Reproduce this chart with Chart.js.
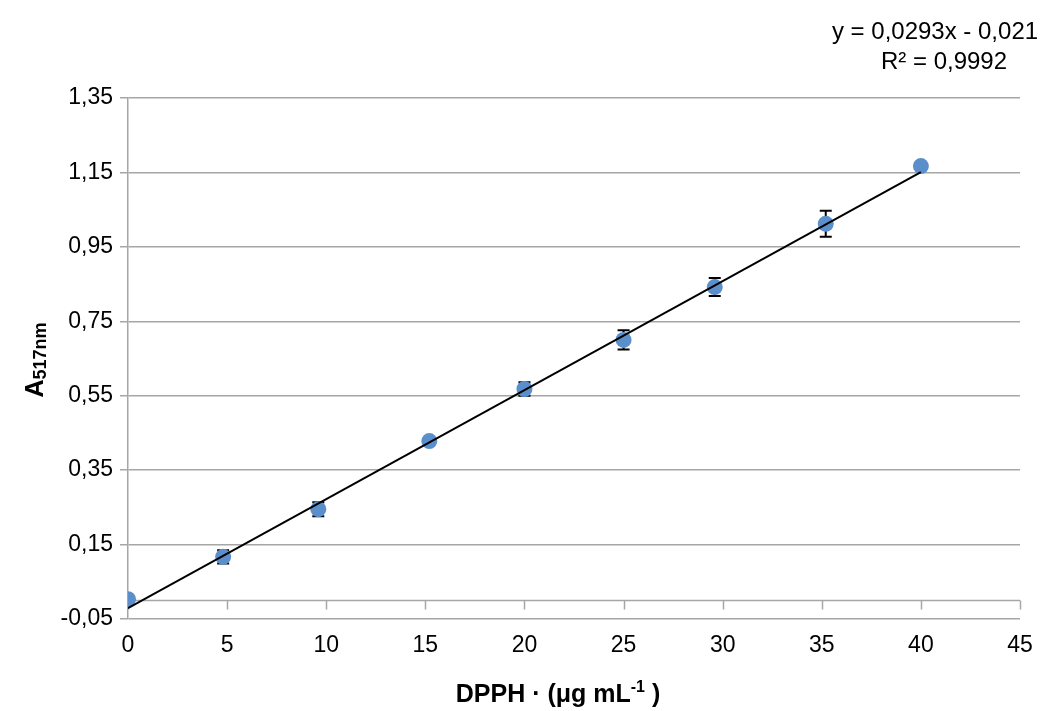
<!DOCTYPE html>
<html>
<head>
<meta charset="utf-8">
<script src="https://cdn.jsdelivr.net/npm/chart.js@4.4.1/dist/chart.umd.min.js"></script>
<style>
  html, body { margin: 0; padding: 0; background: #fff; }
  #wrap { width: 1058px; height: 711px; position: relative; }
</style>
</head>
<body>
<div id="wrap"><canvas id="chart"></canvas></div>
<script>
// concentration of DPPH (ug/mL) and absorbance at 517 nm
var concentration = [0, 4.8, 9.6, 15.2, 20, 25, 29.6, 35.2, 40];
var absorbance = [0.003, 0.117, 0.245, 0.428, 0.568, 0.700, 0.842, 1.012, 1.167];
var errors = [0, 0.018, 0.019, 0.008, 0.018, 0.026, 0.024, 0.035, 0];

// linear trendline ends, from y = 0,0293x - 0,021
var trendX = [0, 40];
var trendY = [-0.021, 1.151];

var yTicks = [-0.05, 0.15, 0.35, 0.55, 0.75, 0.95, 1.15, 1.35];
var xTicks = [0, 5, 10, 15, 20, 25, 30, 35, 40, 45];

var equationText = 'y = 0,0293x - 0,021';
var r2Text = 'R² = 0,9992';

var FONT = '"Liberation Sans", Arial, sans-serif';
var GRID = '#a6a6a6';

function comma(v, digits) {
    return v.toFixed(digits).replace('.', ',');
}

var errorBars = {
    id: 'errorBars',
    beforeDatasetsDraw: function(chart) {
        var ctx = chart.ctx, x = chart.scales.x, y = chart.scales.y;
        ctx.save();
        ctx.strokeStyle = '#000';
        ctx.lineWidth = 2;
        for (var i = 0; i < concentration.length; i++) {
            if (!errors[i]) continue;
            var px = x.getPixelForValue(concentration[i]);
            var top = y.getPixelForValue(absorbance[i] + errors[i]);
            var bot = y.getPixelForValue(absorbance[i] - errors[i]);
            ctx.beginPath();
            ctx.moveTo(px, top); ctx.lineTo(px, bot);
            ctx.moveTo(px - 6, top); ctx.lineTo(px + 6, top);
            ctx.moveTo(px - 6, bot); ctx.lineTo(px + 6, bot);
            ctx.stroke();
        }
        ctx.restore();
    }
};

// x axis crosses at y = 0, ticks pointing down
var crossAxis = {
    id: 'crossAxis',
    beforeDatasetsDraw: function(chart) {
        var ctx = chart.ctx, x = chart.scales.x, y = chart.scales.y;
        var py = Math.round(y.getPixelForValue(0)) + 0.5;
        ctx.save();
        ctx.strokeStyle = GRID;
        ctx.lineWidth = 1.5;
        ctx.beginPath();
        ctx.moveTo(chart.chartArea.left, py);
        ctx.lineTo(chart.chartArea.right, py);
        xTicks.forEach(function(t) {
            var px = Math.round(x.getPixelForValue(t)) + 0.5;
            ctx.moveTo(px, py);
            ctx.lineTo(px, py + 9);
        });
        ctx.stroke();
        ctx.restore();
    }
};

var titles = {
    id: 'titles',
    afterDraw: function(chart) {
        var ctx = chart.ctx;
        ctx.save();
        ctx.fillStyle = '#000';
        ctx.textBaseline = 'alphabetic';

        // x axis title with superscript
        var big = 'bold 25px ' + FONT, small = 'bold 16px ' + FONT;
        var parts = [['DPPH \u00b7 (\u03bcg mL', big, 0], ['-1', small, -10], [' )', big, 0]];
        var w = 0;
        parts.forEach(function(p) { ctx.font = p[1]; w += ctx.measureText(p[0]).width; });
        var cx = 558 - w / 2;
        parts.forEach(function(p) {
            ctx.font = p[1];
            ctx.fillText(p[0], cx, 702 + p[2]);
            cx += ctx.measureText(p[0]).width;
        });

        // y axis title A517nm, rotated
        ctx.translate(43, 360);
        ctx.rotate(-Math.PI / 2);
        var yparts = [['A', 'bold 25px ' + FONT, 0], ['517nm', 'bold 18px ' + FONT, 3]];
        w = 0;
        yparts.forEach(function(p) { ctx.font = p[1]; w += ctx.measureText(p[0]).width; });
        cx = -w / 2;
        yparts.forEach(function(p) {
            ctx.font = p[1];
            ctx.fillText(p[0], cx, p[2]);
            cx += ctx.measureText(p[0]).width;
        });
        ctx.restore();

        // trendline equation
        ctx.save();
        ctx.fillStyle = '#000';
        ctx.font = '24px ' + FONT;
        ctx.textAlign = 'center';
        ctx.fillText(equationText, 935, 39);
        ctx.fillText(r2Text, 944, 69);
        ctx.restore();
    }
};

new Chart(document.getElementById('chart'), {
    type: 'scatter',
    data: {
        datasets: [
            {
                type: 'line',
                label: 'trend',
                data: trendX.map(function(v, i) { return {x: v, y: trendY[i]}; }),
                borderColor: '#000',
                borderWidth: 2,
                pointRadius: 0,
                fill: false
            },
            {
                label: 'A517',
                data: concentration.map(function(v, i) { return {x: v, y: absorbance[i]}; }),
                backgroundColor: '#5b8fcb',
                borderColor: '#5b8fcb',
                pointRadius: 8,
                pointBorderWidth: 0
            }
        ]
    },
    options: {
        responsive: true,
        maintainAspectRatio: false,
        animation: false,
        layout: { padding: { top: 98, right: 38, left: 0, bottom: 0 } },
        plugins: {
            legend: { display: false },
            tooltip: { enabled: false }
        },
        scales: {
            x: {
                type: 'linear',
                min: 0,
                max: 45,
                afterBuildTicks: function(scale) {
                    scale.ticks = xTicks.map(function(v) { return {value: v}; });
                },
                afterFit: function(scale) { scale.height = 92; },
                grid: { display: false, drawTicks: false },
                border: { display: false },
                ticks: {
                    padding: 13,
                    color: '#000',
                    maxRotation: 0,
                    font: { family: FONT, size: 23 },
                    callback: function(v) { return String(v); }
                }
            },
            y: {
                type: 'linear',
                min: -0.05,
                max: 1.35,
                afterBuildTicks: function(scale) {
                    scale.ticks = yTicks.map(function(v) { return {value: v}; });
                },
                afterFit: function(scale) { scale.width = 128; },
                grid: { color: GRID, lineWidth: 1.5, tickLength: 8 },
                border: { display: true, color: GRID, width: 1.5 },
                ticks: {
                    padding: 7,
                    color: '#000',
                    font: { family: FONT, size: 23 },
                    callback: function(v) { return comma(v, 2); }
                }
            }
        }
    },
    plugins: [crossAxis, errorBars, titles]
});
</script>
</body>
</html>
